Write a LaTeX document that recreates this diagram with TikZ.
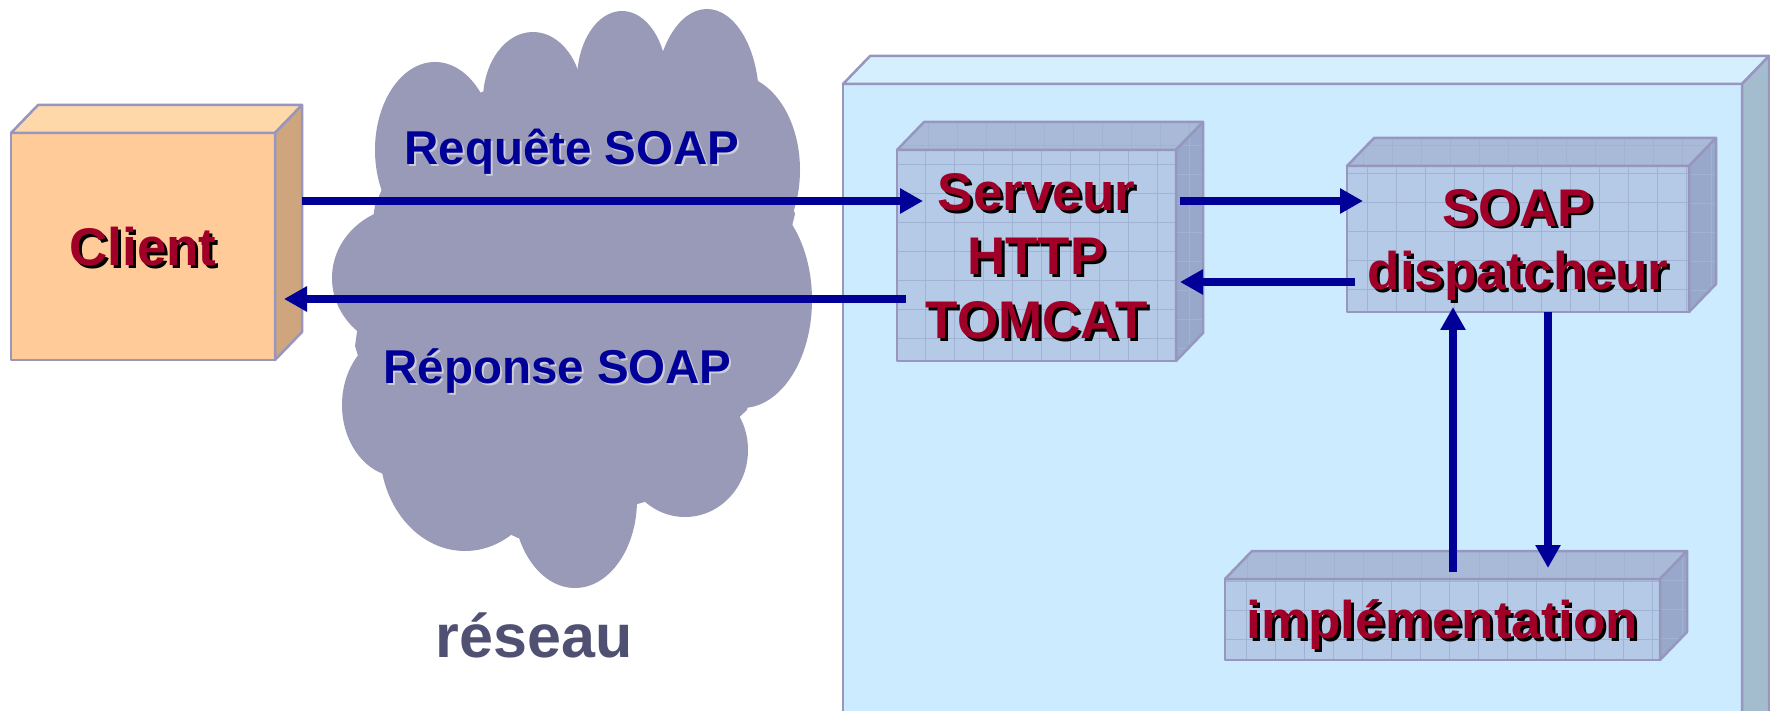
\documentclass[tikz,border=0pt]{standalone}
\usepackage{fontspec}
\setmainfont{Liberation Sans}
\usetikzlibrary{arrows.meta}
\definecolor{redtxt}{RGB}{160,0,40}
\definecolor{arrblue}{RGB}{0,0,153}
\definecolor{cloudc}{RGB}{153,153,184}
\definecolor{restxt}{RGB}{80,80,115}
\definecolor{shadegray}{RGB}{205,205,215}
\definecolor{edge}{RGB}{150,150,190}
\definecolor{cliF}{RGB}{255,204,153}
\definecolor{cliT}{RGB}{255,216,170}
\definecolor{cliS}{RGB}{207,165,125}
\definecolor{bigF}{RGB}{204,235,255}
\definecolor{bigT}{RGB}{214,239,255}
\definecolor{bigS}{RGB}{164,189,206}
\definecolor{inF}{RGB}{180,202,230}
\definecolor{inT}{RGB}{168,186,216}
\definecolor{inS}{RGB}{152,168,202}
\definecolor{gridc}{RGB}{162,178,212}
\newcommand\boxfaces[4]{%
  \draw[face, fill=#2, #4] (#1.north west) -- ++(27,-28) -- ([shift={(27,-28)}]#1.north east) -- (#1.north east) -- cycle;
  \draw[face, fill=#3, #4] (#1.north east) -- ++(27,-28) -- ([shift={(27,-28)}]#1.south east) -- (#1.south east) -- cycle;}
\begin{document}
\begin{tikzpicture}[x=1pt,y=-1pt,
  face/.style={draw=edge, line width=2.5pt, line join=round},
  bigfont/.style={font=\bfseries\fontsize{53}{64}\selectfont},
  frontbox/.style={face, rectangle, inner sep=0pt, outer sep=0pt, align=center, text=redtxt, bigfont, text depth=0pt},
  shadowed/.style={path picture={\node[inner sep=0pt, align=center, text=black, bigfont, text depth=0pt] at ([shift={(3,3)}]path picture bounding box.center) {#1};}},
  gridshadowed/.style={path picture={\draw[gridc, line width=0.8pt] (path picture bounding box.south west) grid[step=29pt] (path picture bounding box.north east);
     \node[inner sep=0pt, align=center, text=black, bigfont, text depth=0pt] at ([shift={(3,3)}]path picture bounding box.center) {#1};}},
  gridfill/.style={path picture={\draw[gridc, line width=0.8pt] (path picture bounding box.south west) grid[step=29pt] (path picture bounding box.north east);}},
  cloudtxt/.style={font=\bfseries\fontsize{47.5}{56}\selectfont, inner sep=0pt, anchor=base},
  arr/.style={draw=arrblue, line width=8pt, -{Triangle[length=23pt,width=24pt]}}
]
\fill[white] (0,0) rectangle (1770,711);
\useasboundingbox (0,0) rectangle (1770,711);
\clip (0,0) rectangle (1770,711);
% cloud
\fill[cloudc] (413,120) -- (487,90) -- (580,70) -- (663,60) -- (757,100) -- (795,214) -- (747,410) -- (648,501) -- (518,538) -- (397,481) -- (355,346) -- (375,205) -- cycle;
\fill[cloudc] (435,150) ellipse [x radius=60, y radius=88];
\fill[cloudc] (533,100) ellipse [x radius=50, y radius=68];
\fill[cloudc] (622,80) ellipse [x radius=45, y radius=69];
\fill[cloudc] (707,100) ellipse [x radius=52, y radius=91];
\fill[cloudc] (735,170) ellipse [x radius=65, y radius=95];
\fill[cloudc] (742,300) ellipse [x radius=70, y radius=108];
\fill[cloudc] (685,450) ellipse [x radius=63, y radius=67];
\fill[cloudc] (575,500) ellipse [x radius=62, y radius=88];
\fill[cloudc] (465,450) ellipse [x radius=85, y radius=101];
\fill[cloudc] (400,405) ellipse [x radius=58, y radius=72];
\fill[cloudc] (410,278) ellipse [x radius=78, y radius=72];
% big server box
\node[face, fill=bigF, inner sep=0pt, outer sep=0pt, minimum width=899pt, minimum height=700pt] (big) at (1292.5,434) {};
\boxfaces{big}{bigT}{bigS}{}
% client
\node[frontbox, fill=cliF, minimum width=264pt, minimum height=227pt, shadowed={Client}] (cli) at (143,246.5) {Client};
\boxfaces{cli}{cliT}{cliS}{}
% serveur
\node[frontbox, fill=inF, minimum width=279pt, minimum height=211pt, gridshadowed={Serveur\\HTTP\\TOMCAT}] (srv) at (1036.5,255.5) {Serveur\\HTTP\\TOMCAT};
\boxfaces{srv}{inT}{inS}{gridfill}
% dispatcheur
\node[frontbox, fill=inF, minimum width=342pt, minimum height=146pt, font=\bfseries\fontsize{53}{63}\selectfont, gridshadowed={SOAP\\dispatcheur}] (disp) at (1518,239) {SOAP\\dispatcheur};
\boxfaces{disp}{inT}{inS}{gridfill}
% implementation
\node[frontbox, fill=inF, minimum width=435pt, minimum height=81pt, gridshadowed={impl\'ementation}] (impl) at (1442.5,619.5) {impl\'ementation};
\boxfaces{impl}{inT}{inS}{gridfill}
% cloud texts
\node[cloudtxt, text=shadegray] (reqs) at (574,167) {Requête SOAP};
\node[cloudtxt, text=arrblue] (req) at (572,165) {Requête SOAP};
\node[cloudtxt, text=shadegray] (reps) at (559.5,385) {Réponse SOAP};
\node[cloudtxt, text=arrblue] (rep) at (557.5,383) {Réponse SOAP};
\node[font=\bfseries\fontsize{61}{70}\selectfont, text=restxt, inner sep=0pt, anchor=base] (res) at (534,657) {réseau};
% arrows
\draw[arr] ([shift={(27,68)}]cli.north east) -- ([shift={(26,51)}]srv.north west);
\draw[arr] ([shift={(9,149)}]srv.north west) -- ([shift={(9,166)}]cli.north east);
\draw[arr] ([shift={(4,51)}]srv.north east) -- ([shift={(16,35)}]disp.north west);
\draw[arr] ([shift={(8,116)}]disp.north west) -- ([shift={(4,132)}]srv.north east);
\draw[arr] ([shift={(228,-7)}]impl.north west) -- ([shift={(106,-5)}]disp.south west);
\draw[arr] ([shift={(201,0)}]disp.south west) -- ([shift={(323,-11)}]impl.north west);
\end{tikzpicture}
\end{document}
